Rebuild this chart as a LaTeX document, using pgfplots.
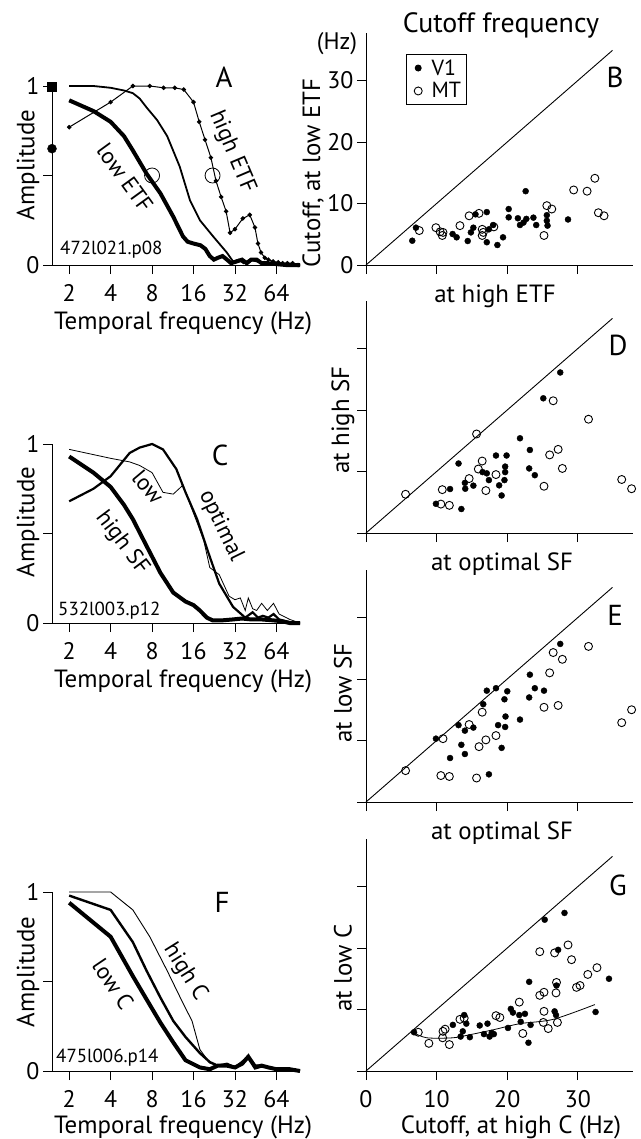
\documentclass[border=0pt]{standalone}
\usepackage{pgfplots}
\pgfplotsset{compat=1.18}
\usepackage{fontspec}
\setmainfont{PT Sans}
\newcommand{\fs}[1]{\fontsize{#1}{#1}\selectfont}
\pgfkeys{/pgf/number format/assume math mode=true}
\pgfplotsset{
 common/.style={scale only axis, axis lines*=left, tick align=outside,
   major tick length=9bp, clip=false, anchor=south west,
   axis line style={line width=0.9bp}, tick style={line width=0.9bp, black},
   tick label style={font=\fs{24}}, xticklabel style={yshift=-7bp}},
 lfp/.style={common, width=248bp, height=179bp,
   xmin=1.5, xmax=95, ymin=0, ymax=1,
   xtick={2,4,8,16,32,64}, xticklabels={2,4,8,16,32,64},
   ytick={0,0.5,1}, yticklabels={0,,1}},
 rsc/.style={common, width=267bp, height=232.5bp, xmin=0, xmax=37.8, ymin=0, ymax=37.8,
   xtick={0,10,20,30}, ytick={0,10,20,30}, xticklabels={}, yticklabels={}},
 limg/.style={legend image code/.code={\draw[##1] plot coordinates {(0cm,0cm)}; \path[draw=none,fill=none] (-0.3cm,-0.1cm) -- (0.4cm,0.1cm);}},
 v1/.style={only marks, mark=*, mark size=3bp, black, limg},
 mt/.style={only marks, mark=o, mark size=4bp, black, mark options={line width=0.9bp}, limg},
 diag/.style={black, line width=0.9bp},
}
\begin{document}
\begin{tikzpicture}
\useasboundingbox (0,0) rectangle (641bp,-1139bp);
% ---------------- A
\begin{axis}[xmode=log, log basis x=2, lfp, at={(52bp,-265bp)}]
\addplot[black, line width=1.8bp] coordinates {(2,1.0)(3,1.0)(4,0.99)(5,0.975)(5.8,0.96)(6.5,0.93)(7.3,0.88)(8.7,0.81)(10.3,0.72)(12.7,0.55)(15.1,0.36)(17.8,0.25)(22.2,0.16)(27.9,0.07)(31,0.02)(34,0.03)(37,0.01)(41,0.03)(46,0.02)(52,0.01)(60,0.01)(70,0.0)(82,0.005)(95,0.0)};
\addplot[black, line width=4bp] coordinates {(2,0.92)(3,0.86)(4,0.80)(5,0.72)(5.8,0.64)(7.3,0.51)(9.2,0.40)(11.4,0.27)(13.4,0.16)(14.5,0.13)(16,0.12)(18,0.11)(19.5,0.09)(21,0.05)(22.5,0.03)(24,0.04)(26,0.05)(28,0.03)(30,0.01)(33,0.02)(36,0.03)(39,0.01)(42,0.03)(46,0.03)(50,0.01)(56,0.01)(64,0.005)(75,0.0)(95,0.0)};
\addplot[black, line width=1bp, mark=*, mark size=1.7bp] coordinates {(2,0.77)(4,0.91)(5.8,1.0)(7.7,1.0)(9.7,0.99)(11.7,0.99)(13.6,0.98)(16,0.91)(17.6,0.80)(19.4,0.70)(21.4,0.60)(23.3,0.47)(25.4,0.38)(27.6,0.30)(29.5,0.18)(32,0.20)(36.5,0.26)(41,0.28)(44.7,0.21)(47,0.12)(49.5,0.07)(52.7,0.04)(56,0.03)(60.6,0.02)(66,0.015)(71,0.01)(77,0.01)(84,0.01)(92,0.0)};
\addplot[black, only marks, mark=o, mark size=7.5bp, mark options={line width=0.8bp}] coordinates {(8,0.5)(22,0.5)};
\addplot[black, only marks, mark=square*, mark size=4.5bp] coordinates {(1.5,0.995)};
\addplot[black, only marks, mark=*, mark size=4.5bp] coordinates {(1.5,0.65)};
\end{axis}
% ---------------- C
\begin{axis}[xmode=log, log basis x=2, lfp, at={(52bp,-623bp)}]
\addplot[black, line width=4bp] coordinates {(2,0.93)(3,0.84)(4,0.76)(5,0.66)(5.8,0.58)(7.3,0.43)(9.2,0.28)(11.4,0.17)(14,0.12)(16,0.10)(17.8,0.07)(20,0.03)(22,0.015)(26,0.015)(31,0.02)(36,0.025)(42,0.02)(50,0.02)(60,0.015)(70,0.01)(80,0.0)(95,0.0)};
\addplot[black, line width=2.2bp] coordinates {(2,0.68)(3,0.75)(4,0.82)(5.5,0.95)(6.5,0.98)(8,1.0)(9.6,0.97)(12,0.86)(14,0.73)(17,0.58)(21,0.37)(24.6,0.22)(31,0.09)(38,0.03)(43,0.06)(47,0.03)(51,0.04)(56,0.03)(61,0.05)(67,0.02)(75,0.01)(85,0.0)(95,0.0)};
\addplot[black, line width=0.8bp] coordinates {(2,0.97)(4,0.92)(5.5,0.90)(6.5,0.88)(8,0.84)(9.6,0.73)(11.4,0.72)(13.4,0.77)(15,0.67)(17,0.56)(19,0.46)(21,0.31)(24.6,0.27)(29,0.15)(32,0.13)(35,0.14)(38,0.07)(40,0.14)(43,0.08)(46,0.07)(50,0.11)(55,0.07)(61,0.11)(67,0.05)(80,0.02)(95,0.0)};
\end{axis}
% ---------------- F
\begin{axis}[xmode=log, log basis x=2, lfp, at={(52bp,-1071bp)}]
\addplot[black, line width=0.9bp] coordinates {(2,1.0)(4,1.0)(5.8,0.90)(7.7,0.75)(10.3,0.56)(13.4,0.38)(15.6,0.28)(17.8,0.12)(21,0.045)(24,0.03)(28,0.03)(32,0.02)(36,0.04)(40,0.07)(45,0.02)(50,0.03)(56,0.02)(64,0.01)(80,0.01)(95,0.0)};
\addplot[black, line width=2.4bp] coordinates {(2,0.98)(4,0.90)(5.8,0.72)(7.3,0.56)(9.2,0.41)(11.4,0.28)(14,0.19)(17.8,0.10)(21,0.05)(24,0.03)(28,0.04)(32,0.02)(36,0.05)(40,0.08)(45,0.03)(50,0.03)(56,0.02)(64,0.01)(80,0.01)(95,0.0)};
\addplot[black, line width=4bp] coordinates {(2,0.94)(4,0.75)(5.8,0.53)(7.3,0.40)(9.2,0.27)(11.4,0.16)(14,0.06)(17.8,0.02)(21,0.01)(24,0.03)(28,0.03)(32,0.02)(36,0.04)(40,0.08)(45,0.02)(50,0.03)(56,0.02)(64,0.01)(80,0.01)(95,0.0)};
\end{axis}
% ---------------- B
\begin{axis}[rsc, at={(366bp,-265bp)}, yticklabels={0,10,20,30},
  legend style={at={(axis cs:5.7,34.3)}, anchor=north west, draw=black, line width=0.9bp,
  font=\fs{22}, inner xsep=3bp, inner ysep=3bp, row sep=2bp}, legend cell align=left]
\addplot[v1] coordinates {(6.55,3.95)(7.07,6.07)(12.26,5.04)(12.83,4.5)(14.4,3.9)(14.85,5.3)(15.2,6.07)(15.5,8.24)(17.1,8.6)(17.1,3.7)(17.4,5.8)(18.0,6.5)(18.6,3.25)(19.4,4.5)(20.2,9.1)(20.2,7.75)(21.5,7.6)(21.8,6.5)(22.3,6.9)(22.6,12.0)(22.7,7.5)(23.7,7.7)(24.1,6.5)(25.6,8.1)(25.6,7.2)(25.7,6.4)(28.6,7.4)};
\addlegendentry{V1}
\addplot[mt] coordinates {(7.54,5.6)(9.9,6.07)(10.5,5.4)(10.8,4.8)(10.9,5.3)(13.3,6.4)(14.6,8.0)(16.0,8.4)(16.45,5.8)(16.45,4.8)(16.6,5.3)(18.1,6.2)(25.2,4.8)(25.6,9.65)(26.3,9.1)(29.4,12.2)(31.3,12.0)(32.4,14.1)(32.9,8.5)(33.7,8.0)};
\addlegendentry{MT}
\addplot[diag] coordinates {(0,0)(34.9,34.9)};
\end{axis}
% ---------------- D
\begin{axis}[rsc, at={(366bp,-533bp)}]
\addplot[v1] coordinates {(9.9,4.75)(11.9,7.15)(13.1,11.3)(13.5,3.9)(14.0,8.15)(14.05,7.2)(15.2,7.7)(16.5,9.9)(17.1,9.7)(17.4,8.6)(18.4,12.6)(18.85,7.75)(19.2,6.1)(19.6,8.6)(19.7,9.9)(19.7,10.8)(19.9,12.6)(21.8,15.4)(23.1,10.5)(23.2,13.5)(23.9,9.4)(25.1,21.9)(27.5,26.1)};
\addplot[mt] coordinates {(5.6,6.3)(10.6,4.7)(10.8,7.05)(11.8,4.5)(14.6,8.85)(15.65,16.1)(15.9,10.4)(16.45,11.7)(16.97,6.9)(18.4,9.5)(25.2,7.6)(26.0,12.7)(26.5,21.5)(27.2,13.6)(27.8,10.5)(31.5,18.5)(36.2,8.7)(37.6,7.2)};
\addplot[diag] coordinates {(0,0)(34.9,34.9)};
\end{axis}
% ---------------- E
\begin{axis}[rsc, at={(366bp,-802bp)}]
\addplot[v1] coordinates {(9.9,10.3)(11.9,7.15)(13.1,12.5)(13.5,9.3)(14.0,11.6)(14.0,7.8)(15.2,12.1)(16.6,15.9)(17.1,18.1)(17.4,4.5)(18.4,18.5)(18.7,12.5)(19.2,8.8)(19.6,16.7)(19.7,12.2)(19.75,13.9)(20.0,18.0)(21.8,13.4)(23.1,17.0)(23.2,20.7)(23.9,18.5)(25.2,18.1)(27.5,25.7)};
\addplot[mt] coordinates {(5.6,5.1)(10.6,4.3)(11.8,4.15)(10.9,10.3)(14.6,12.6)(15.65,3.9)(16.0,9.0)(16.45,14.6)(16.97,10.1)(18.4,10.8)(25.2,15.4)(26.0,21.0)(26.5,24.3)(27.2,15.7)(27.8,23.2)(31.5,25.3)(36.2,12.9)(37.6,15.0)};
\addplot[diag] coordinates {(0,0)(34.9,34.9)};
\end{axis}
% ---------------- G
\begin{axis}[rsc, at={(366bp,-1071bp)}, xticklabels={0,10,20,30}]
\addplot[v1] coordinates {(6.8,6.3)(12.3,7.5)(13.4,5.6)(13.7,6.45)(13.9,9.1)(14.2,7.7)(14.7,5.5)(16.1,7.4)(16.7,6.0)(17.2,7.7)(17.5,5.6)(17.8,6.2)(18.1,6.0)(20.1,7.0)(20.5,10.1)(20.8,9.5)(21.7,9.1)(21.9,8.0)(22.5,9.3)(23.0,4.6)(23.1,14.5)(23.3,7.5)(25.3,24.6)(26.7,9.7)(26.9,9.1)(26.97,13.9)(27.2,19.7)(28.1,25.7)(32.5,9.6)(34.4,15.0)};
\addplot[mt] coordinates {(7.4,6.3)(8.9,4.5)(10.9,6.45)(10.85,5.4)(11.2,6.8)(11.8,4.3)(13.3,8.4)(13.9,8.6)(18.4,9.0)(18.95,8.7)(21.7,11.2)(22.2,6.1)(24.6,19.4)(24.6,12.3)(25.2,12.8)(25.2,9.7)(25.1,7.9)(25.8,6.9)(26.7,19.2)(26.9,12.7)(26.97,14.4)(27.1,7.9)(28.6,20.5)(29.1,18.1)(29.8,13.6)(30.3,13.9)(31.4,15.7)(32.7,16.8)};
\addplot[black, line width=0.8bp, smooth] coordinates {(6.8,6.2)(8.6,5.4)(12.3,5.4)(14.7,5.9)(18.0,6.7)(21.8,7.7)(26.5,8.4)(32.4,10.8)};
\addplot[diag] coordinates {(0,0)(34.9,34.9)};
\end{axis}
% ---------------- texts
\begin{scope}[x=1bp, y=-1bp]
\node[font=\fs{28}, anchor=base] at (501,32) {Cutoff frequency};
\node[font=\fs{24}, anchor=base] at (337,49) {(Hz)};
\node[font=\fs{25}, rotate=90] at (313,173) {Cutoff, at low ETF};
\node[font=\fs{25}, rotate=90] at (343,420) {at high SF};
\node[font=\fs{25}, rotate=90] at (343,693) {at low SF};
\node[font=\fs{25}, rotate=90] at (343,968) {at low C};
\node[font=\fs{25}, anchor=base] at (495,302) {at high ETF};
\node[font=\fs{25}, anchor=base] at (502,570) {at optimal SF};
\node[font=\fs{25}, anchor=base] at (502,839) {at optimal SF};
\node[font=\fs{25}, anchor=base] at (511,1133) {Cutoff, at high C (Hz)};
\foreach \yy in {165,522,972} \node[font=\fs{25}, rotate=90] at (28,\yy) {Amplitude};
\foreach \yy in {329,687,1133} \node[font=\fs{25}, anchor=base] at (183,\yy) {Temporal frequency (Hz)};
\node[font=\fs{29}] at (224,77) {A};
\node[font=\fs{29}] at (220,455) {C};
\node[font=\fs{29}] at (222,902) {F};
\node[font=\fs{29}] at (615,77) {B};
\node[font=\fs{29}] at (618,345) {D};
\node[font=\fs{29}] at (615,615) {E};
\node[font=\fs{29}] at (618,885) {G};
\node[font=\fs{19}, anchor=west, inner sep=0] at (60,250) {472l021.p08};
\node[font=\fs{19}, anchor=west, inner sep=0] at (58,611) {532l003.p12};
\node[font=\fs{19}, anchor=west, inner sep=0] at (56,1058) {475l006.p14};
\node[font=\fs{23}, rotate=-54] at (125,178) {low ETF};
\node[font=\fs{23}, rotate=-67] at (232,152) {high ETF};
\node[font=\fs{23}, rotate=-50] at (148,487) {low};
\node[font=\fs{23}, rotate=-64] at (221,526) {optimal};
\node[font=\fs{23}, rotate=-53] at (122,543) {high SF};
\node[font=\fs{23}, rotate=-56] at (113,984) {low C};
\node[font=\fs{23}, rotate=-58] at (185,972) {high C};
\end{scope}
\end{tikzpicture}
\end{document}
